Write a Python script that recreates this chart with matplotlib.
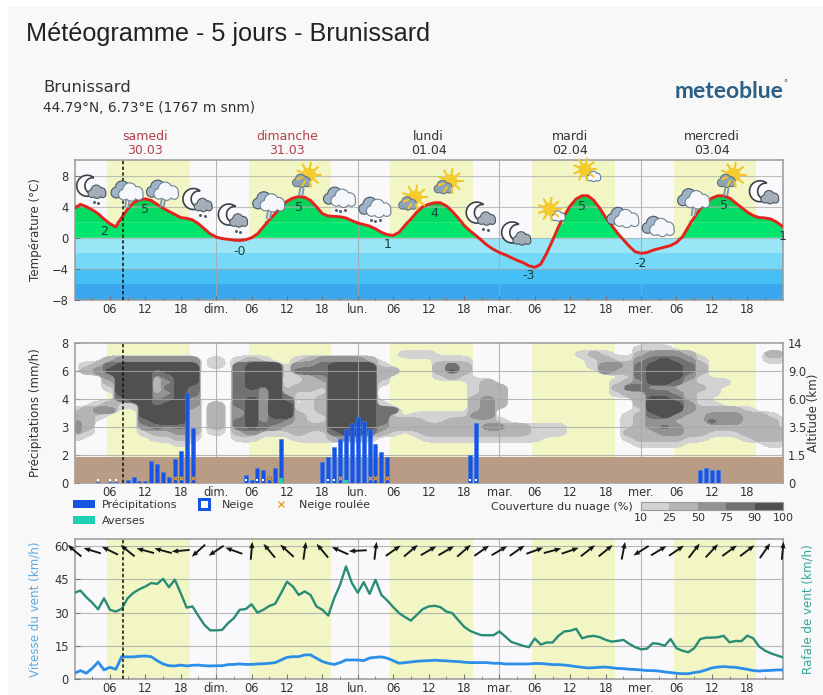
import numpy as np
import matplotlib
matplotlib.use("Agg")
import matplotlib.pyplot as plt
from matplotlib.cm import ScalarMappable
from matplotlib.colors import BoundaryNorm, ListedColormap
from matplotlib.lines import Line2D
from matplotlib.patches import Circle, Patch, Polygon, Rectangle

W, H = 823, 695

# temperature (degC), one value per hour, 0..120
temp = [3.8,4.3,4.0,3.6,3.1,2.4,1.8,1.4,2.6,3.7,4.5,4.9,5.0,4.8,4.3,3.8,3.4,3.0,2.6,2.5,2.3,1.8,1.15,0.5,
        0.1,-0.1,-0.2,-0.3,-0.35,-0.25,0.0,0.5,1.4,2.3,3.1,4.0,4.7,5.1,5.3,5.2,4.8,4.0,3.1,2.8,2.75,2.7,2.55,2.2,
        1.9,1.7,1.5,1.15,0.7,0.4,0.3,0.7,1.6,2.4,3.3,4.0,4.3,4.5,4.5,4.1,3.4,2.55,1.6,0.9,0.3,-0.35,-1.0,-1.5,
        -1.9,-2.2,-2.55,-2.9,-3.2,-3.6,-3.8,-3.4,-2.0,-0.35,1.4,2.85,4.1,5.0,5.4,5.4,4.8,3.8,2.6,1.6,0.6,-0.25,-1.1,-1.8,
        -2.0,-1.9,-1.6,-1.4,-1.2,-1.0,-0.6,0.1,1.4,2.6,3.7,4.5,5.1,5.4,5.4,5.1,4.5,3.9,3.3,2.85,2.6,2.55,2.4,2.0,1.45]
temp_label_hours = [5, 12, 28, 38, 53, 61, 77, 86, 96, 110, 120]
temp_label_y = [0.8, 3.6, -1.75, 3.9, -0.85, 3.06, -4.8, 4.0, -3.3, 4.1, 0.1]
temp_label_txt = ["2", "5", "-0", "5", "1", "4", "-3", "5", "-2", "5", "1"]

icon_hours = [3,9,15,21,27,33,39,45,51,57,63,69,75,81,87,93,99,105,111,117]
icon_y = [6.3,6.0,6.1,4.6,2.6,4.6,7.7,5.2,3.9,4.8,6.9,2.85,0.3,3.3,8.4,2.6,1.45,5.0,7.7,5.6]
icon_kind = ["moon_drops","clouds_rain","clouds_rain","moon_drops","moon_drops","clouds_rain","sun_rain",
             "clouds_dots","clouds_dots","sun_grey","sun_grey","moon_drops","moon","sun_white","sun_white",
             "clouds","clouds","clouds_rain","sun_rain","moon"]

day_start = [5.5, 29.5, 53.5, 77.5, 101.5]
day_end = [19.5, 43.5, 67.5, 91.5, 115.5]
now_hour = 8.3
day_names = ["samedi", "dimanche", "lundi", "mardi", "mercredi"]
day_dates = ["30.03", "31.03", "01.04", "02.04", "03.04"]
day_short = ["dim.", "lun.", "mar.", "mer."]

# precipitation (mm/h)
rain_hours = [4,6,7,9,10,11,12,13,14,15,16,17,18,19,20,29,30,31,32,33,34,35,
              42,43,44,45,46,47,48,49,50,51,52,53,67,68,106,107,108,109]
rain_vals = [0.1,0.1,0.1,0.2,0.4,0.15,0.15,1.6,1.35,0.8,0.4,1.75,2.15,4.46,2.95,0.55,0.2,1.1,0.95,0.5,1.1,2.56,
             1.5,1.87,2.29,2.56,2.94,3.13,3.34,3.22,2.94,2.41,2.12,1.87,1.98,3.15,0.96,1.08,0.96,0.93]
shower_hours = [35, 46]
shower_vals = [0.35, 0.2]
snow_hours = [4, 6, 7, 29, 31, 32, 43, 44, 67, 68]
graupel_hours = [17, 18, 20, 33, 45, 50, 51, 53]
precip_ticks = [0, 2, 3, 4, 6, 8]
alt_ticks = ["0", "1.5", "3.5", "6.0", "9.0", "14"]

# cloud cover class, columns every 2 h, rows from panel level 5.0 down to 1.0
cloud_rows = [
    "0000000000 0000000000 0000000000 0000000000 0000000000 0000000000 0",
    "0000000000 0000000000 0000000000 0000000000 0000000011 1000000000 0",
    "0000000000 0000000000 0000000011 1000000000 0001210023 3320000002 2",
    "0002333333 3010121001 2333320000 0111000000 0000121134 5431000001 1",
    "0124555555 5010455503 3455551000 0242000000 0000133245 5542000000 0",
    "0235555455 5000455514 4455552200 0252000000 0000032245 5542000000 0",
    "0003555245 5000455511 2355552000 0121000000 0000000145 5531000000 0",
    "0002555235 5000455501 2255551000 0000120000 0000001235 5421110000 0",
    "0001555245 4000453512 2155550000 0000122000 0000002443 3212100000 0",
    "0000555235 4000443521 1155550000 0000122000 0000001224 4321100000 0",
    "0000455345 3000453540 1255550000 0000232000 0000000025 5421000000 0",
    "0012115455 3020453550 1255551000 0000232000 0000000025 5531100000 0",
    "1233005555 2020353551 1255554400 0000230000 0000000015 5532222100 0",
    "2210005555 2020353552 1155554101 1111330000 0000000124 5322333221 0",
    "3200004555 2020453432 1155554222 1022221000 0000000123 3222433222 1",
    "3200003434 2020454322 2255553222 2222233221 1100000123 4322222222 1",
    "3100001223 2010231112 1145542101 2222222221 1100000222 3322111222 2",
    "1000000112 1000110001 1123210000 1111111111 0000000122 2211000122 2",
    "0000000001 0000000000 0000000000 0000000000 0000000011 1100000001 1",
    "0000000000 0000000000 0000000000 0000000000 0000000000 0000000000 0",
    "0000000000 0000000000 0000000000 0000000000 0000000000 0000000000 0",
]
cloud_levels = [10, 25, 50, 75, 90, 100]
cloud_colors = ["#d2d2d2", "#b4b4b4", "#929292", "#717171", "#505050"]
cloud_edge = [0.33, 0.37, 0.41, 0.45, 0.49]

# wind (km/h), one value per hour
wind = [2.6,3.8,2.6,4.8,7.7,4.1,5.3,4.4,10.1,10,10,10.3,10.4,10.1,8.3,6.8,6,5.9,6.3,5.9,6.2,6.3,6,5.9,
        6,6,6.5,6.6,6.8,6.6,6.6,6.8,6.9,7.1,7.4,8.6,9.8,10.1,10.1,10.9,10.9,9.4,7.9,7.1,6.6,7.4,8.6,8.6,
        8.6,8.3,9.5,9.8,10,9.4,8.3,7.1,7.4,7.7,8,8.2,8.3,8.5,8.3,8.2,8,7.9,7.6,7.4,7.4,7.4,7.4,7.1,
        7.1,6.8,6.8,6.8,6.8,6.8,7,7,6.8,6.5,6.5,6.3,6,5.6,5.3,5,5.1,5.3,5.4,5.1,4.8,4.7,4.4,4.3,
        4.1,3.8,3.8,3.6,3.2,2.9,2.6,2.4,2.4,2.9,3.3,4.1,5,5.4,5.6,5.4,5.3,4.8,4.4,3.8,3.6,3.8,3.9,4.1,4.1]
gust = [39,40,37,34.5,31.5,36.5,31.3,30.5,31.7,36.5,39,40.6,41.8,43.4,43,45.3,41.5,44.9,38.8,32.3,32.8,28.5,24.5,22,
        22,22.2,25.2,27.5,31.3,31.6,33.8,30,31.3,33,34,38.8,44,41.8,38,39.6,38,32.8,31.3,28.7,36.5,42.6,50.9,43.4,
        39,43.8,38.5,44.9,38,35.5,32.5,29.8,28,26.4,29,31.6,32.8,33.1,32.5,30.5,29.8,26.7,23.7,21.8,20.7,19.8,19.8,19.8,
        21.5,19.2,16.8,15.9,15,14.4,18.3,15.6,16.5,16.5,19.5,21.5,21.8,22.7,18.4,19.2,19.5,18.9,17.7,16.9,17.2,17.7,15.9,14.4,
        13.4,13.7,16.2,15.9,15,18.1,13.9,12.8,12.1,13.9,18,18.7,18.7,18.9,19.5,16.6,17.2,17.1,19.6,18.4,14.7,12.8,11.6,10.7,9.8]
# wind arrows, every 3 h, direction the arrow points to (deg from east)
arrow_angle = [140,163,154,141,165,165,185,222,214,160,85,130,138,82,130,156,183,83,35,40,30,
               30,41,35,30,35,20,15,19,38,39,79,212,31,34,52,47,36,37,55,84]

hours = np.arange(len(temp))


def px_axes(left, top, right, bottom):
    return fig.add_axes([left / W, 1 - bottom / H, (right - left) / W, (bottom - top) / H])


def fig_text(x, y, s, **kw):
    fig.text(x / W, 1 - y / H, s, **kw)


def setup_panel(ax):
    ax.set_facecolor("#f9f9fb")
    ax.set_xlim(0, 120)
    for a, b in zip(day_start, day_end):
        ax.axvspan(a, b, color="#f1f6c4", lw=0, zorder=0)
    ax.set_xticks(np.arange(6, 120, 6))
    labels = []
    for h in range(6, 120, 6):
        if h % 24 == 0:
            labels.append(day_short[h // 24 - 1])
        else:
            labels.append("%02d" % (h % 24))
    ax.set_xticklabels(labels)
    ax.set_xticks(np.arange(3, 120, 6), minor=True)
    ax.tick_params(axis="both", which="major", direction="in", length=3.5, color="#777777",
                   labelsize=8.3, labelcolor="#333333", pad=4)
    ax.tick_params(axis="x", which="major", pad=2)
    ax.tick_params(axis="x", which="minor", direction="in", length=2, color="#777777")
    for h in [24, 48, 72, 96]:
        ax.axvline(h, color="#a5a5a5", lw=0.8, alpha=0.8, zorder=2.5)
    for sp in ax.spines.values():
        sp.set_color("#999999")
        sp.set_linewidth(1.1)
    ax.axvline(now_hour, color="#111111", lw=1.1, ls=(0, (2.2, 1.5)), zorder=6)


def upsample(a, n, passes=4):
    # bilinear on a grid n times finer, then a blur so the outlines are not stepped
    rows, cols = a.shape
    xi = np.linspace(0, cols - 1, (cols - 1) * n + 1)
    yi = np.linspace(0, rows - 1, (rows - 1) * n + 1)
    b = np.array([np.interp(xi, np.arange(cols), r) for r in a])
    b = np.array([np.interp(yi, np.arange(rows), c) for c in b.T]).T
    k = np.array([1, 2, 1]) / 4
    for _ in range(passes):
        b = np.apply_along_axis(lambda v: np.convolve(v, k, mode="same"), 1, b)
        b = np.apply_along_axis(lambda v: np.convolve(v, k, mode="same"), 0, b)
    return b, xi, yi


def cloud(cx, cy, s, fill, edge="#4a5560"):
    lobes = [(-0.52, 0.18, 0.34), (-0.1, -0.16, 0.46), (0.42, 0.02, 0.38), (0.55, 0.26, 0.27), (0.0, 0.25, 0.36)]
    for lw_extra, color in [(1.1, edge), (0, fill)]:
        for dx, dy, r in lobes:
            over.add_patch(Circle((cx + dx * s, cy + dy * s), r * s + lw_extra, fc=color, ec="none"))


def sun(cx, cy, r):
    for a in np.arange(0, 360, 40):
        c, n = np.cos(np.radians(a)), np.sin(np.radians(a))
        over.plot([cx + c * r, cx + c * r * 1.75], [cy + n * r, cy + n * r * 1.75], color="#f3c62a", lw=1.5,
                  solid_capstyle="round")
    over.add_patch(Circle((cx, cy), r, fc="#f5cb2e", ec="none"))


def moon(cx, cy, r):
    t = np.radians(np.linspace(50, 310, 40))
    outer = np.c_[cx + r * np.cos(t), cy - r * np.sin(t)]
    shift = 0.55 * r
    a = np.arctan2(np.sin(np.radians(50)), np.cos(np.radians(50)) - 0.55)
    rad = r * np.hypot(np.sin(np.radians(50)), np.cos(np.radians(50)) - 0.55)
    t2 = np.linspace(2 * np.pi - a, a, 40)
    inner = np.c_[cx + shift + rad * np.cos(t2), cy - rad * np.sin(t2)]
    over.add_patch(Polygon(np.r_[outer, inner], closed=True, fc="#fbfbfb", ec="#3b4148", lw=1.2))


def drops(cx, cy, n=2):
    for i in range(n):
        over.plot(cx + (i - (n - 1) / 2) * 4.5, cy + (i % 2), "o", ms=2.2, color="#55616d", mew=0)


def rain(cx, cy):
    for dx in [-2.5, 0.8]:
        over.plot([cx + dx, cx + dx - 1], [cy, cy + 6], color="#7f98ad", lw=1.4)


def three_clouds(cx, cy):
    cloud(cx - 4, cy - 1, 14, "#9fb4c8")
    cloud(cx + 3.5, cy + 1, 14, "#f5f7fb", edge="#6f808f")


def draw_icon(kind, cx, cy):
    if kind.startswith("moon"):
        moon(cx - 5, cy - 3, 10.5)
        cloud(cx + 5, cy + 3, 10, "#a4adb8")
        if kind == "moon_drops":
            drops(cx + 4, cy + 13)
    elif kind.startswith("clouds"):
        three_clouds(cx, cy)
        if kind == "clouds_rain":
            rain(cx + 1, cy + 10)
        elif kind == "clouds_dots":
            drops(cx, cy + 13, 3)
    elif kind == "sun_white":
        sun(cx - 3, cy - 3, 6.5)
        cloud(cx + 6, cy + 4, 7.5, "#f5f7fb", edge="#5d7ea0")
    else:
        sun(cx + 4, cy - 3, 7)
        cloud(cx - 3, cy + 3, 10, "#8fa3b6", edge="#66737f")
        if kind == "sun_rain":
            rain(cx - 2, cy + 11)


fig = plt.figure(figsize=(W / 100, H / 100), dpi=100, facecolor="white")
fig.add_artist(Rectangle((8 / W, 0), 1, 1 - 7 / H, transform=fig.transFigure, fc="#f8f8f8", ec="none", zorder=-5))

ax1 = px_axes(74.5, 160, 782.7, 300)
ax2 = px_axes(74.5, 343, 782.7, 483)
ax3 = px_axes(74.5, 539, 782.7, 679)

# ---------- temperature
setup_panel(ax1)
ax1.set_ylim(-8, 10)
ax1.set_yticks([-8, -4, 0, 4, 8])
ax1.yaxis.grid(True, color="#a8a8a8", lw=0.8, alpha=0.7, zorder=2)
ax1.set_axisbelow(False)
t = np.array(temp)
cold = ["#9be6f6", "#75d8f6", "#46bff7", "#39a8ef"]
for i, c in enumerate(cold):
    ax1.axhspan(-2 * i - 2, -2 * i, color=c, lw=0, zorder=1)
warm = ["#00e56e", "#04dc64", "#0ccf58"]
for i, c in enumerate(warm):
    lo, hi = 2 * i, 2 * i + 2
    ax1.fill_between(hours, lo, np.clip(t, lo, hi), where=t >= lo, interpolate=True, color=c, lw=0, zorder=1)
ax1.plot(hours, temp, color="#e4231f", lw=2.1, zorder=4, solid_capstyle="round")
for h, y, s in zip(temp_label_hours, temp_label_y, temp_label_txt):
    ax1.text(h, y, s, ha="center", va="center", fontsize=9, color="#12433f", zorder=5)
ax1.set_ylabel("Température (°C)", fontsize=8.6, color="#333333", labelpad=2)
ax1.yaxis.set_label_coords((42 - 74.5) / (782.7 - 74.5), 0.5)

# ---------- precipitation and clouds
setup_panel(ax2)
ax2.set_ylim(0, 5)
ax2.set_yticks(range(6))
ax2.set_yticklabels([str(v) for v in precip_ticks])
for lev in range(1, 5):
    ax2.axhline(lev, color="#a8a8a8", lw=0.8, alpha=0.8, zorder=2.5)

grid = np.array([[int(c) for c in row.replace(" ", "")] for row in cloud_rows])
for k, (color, edge) in enumerate(zip(cloud_colors, cloud_edge), start=1):
    mask, xi, yi = upsample((grid >= k).astype(float), 4)
    ax2.contourf(xi * 2, 5 - yi * 0.2, mask, levels=[edge, 2], colors=[color], zorder=1)

ax2.axhspan(0, 0.92, color="#b99c85", lw=0, zorder=3)
rain_pos = np.interp(rain_vals, precip_ticks, range(6))
ax2.bar(rain_hours, rain_pos, width=0.68, color="#1654e4", edgecolor="#3d78ee", lw=0.4, zorder=4)
ax2.bar(shower_hours, np.interp(shower_vals, precip_ticks, range(6)), width=0.68, color="#1fd0b5", zorder=5)
ax2.plot(snow_hours, [0.09] * len(snow_hours), "s", ms=2.1, color="white", mew=0, zorder=5)
ax2.plot(graupel_hours, [0.17] * len(graupel_hours), "x", ms=2.6, color="#e8a33a", mew=0.8, zorder=5)
ax2.set_ylabel("Précipitations (mm/h)", fontsize=8.6, color="#333333")
ax2.yaxis.set_label_coords((42 - 74.5) / (782.7 - 74.5), 0.5)
ax2r = ax2.twinx()
ax2r.set_ylim(0, 5)
ax2r.set_yticks(range(6))
ax2r.set_yticklabels(alt_ticks)
ax2r.tick_params(axis="y", length=0, labelsize=8.3, labelcolor="#333333", pad=4)
for sp in ax2r.spines.values():
    sp.set_visible(False)
fig_text(813, 413, "Altitude (km)", rotation=90, ha="center", va="center", fontsize=8.6, color="#333333")

handles = [
    Patch(fc="#1654e4", ec="none"),
    Patch(fc="#1fd0b5", ec="none"),
    Line2D([], [], ls="none", marker="s", ms=6.5, mfc="white", mec="#1654e4", mew=2.2),
    Line2D([], [], ls="none", marker="x", ms=4.5, color="#e8a33a", mew=1),
]
fig.legend(handles, ["Précipitations", "Averses", "Neige", "Neige roulée"], ncol=3, frameon=False,
           loc="upper left", bbox_to_anchor=(73 / W, 1 - 499 / H), borderaxespad=0, borderpad=0,
           fontsize=8, labelcolor="#333333", handlelength=2, handletextpad=0.6, columnspacing=1.4,
           labelspacing=0.6)

cax = px_axes(641, 502, 783, 510)
cmap = ListedColormap(cloud_colors)
norm = BoundaryNorm(cloud_levels, cmap.N)
cb = fig.colorbar(ScalarMappable(norm=norm, cmap=cmap), cax=cax, orientation="horizontal", spacing="uniform",
                  ticks=cloud_levels)
cb.outline.set_edgecolor("#999999")
cb.ax.tick_params(length=0, labelsize=8, labelcolor="#333333", pad=2.5)
cb.ax.minorticks_off()
fig_text(633, 507, "Couverture du nuage (%)", ha="right", va="center", fontsize=8, color="#333333")

# ---------- wind
setup_panel(ax3)
ax3.set_ylim(0, 63.3)
ax3.set_yticks([0, 15, 30, 45, 60])
ax3.yaxis.grid(True, color="#a8a8a8", lw=0.8, alpha=0.8, zorder=2)
ax3.set_axisbelow(False)
ax3.plot(hours, gust, color="#2a8c75", lw=1.7, zorder=4)
ax3.plot(hours, wind, color="#2b8ee8", lw=2.0, zorder=4)
arrow_hours = np.arange(0, 121, 3)
ang = np.radians(arrow_angle)
ax3.quiver(arrow_hours, [58] * len(arrow_hours), np.cos(ang), np.sin(ang), pivot="mid", angles="uv",
           units="dots", scale_units="dots", scale=1 / 18, width=1.9, headwidth=2.8, headlength=3.6,
           headaxislength=3.2, color="#151515", zorder=5, clip_on=False)
ax3.set_ylabel("Vitesse du vent (km/h)", fontsize=8.6, color="#5aabe0")
ax3.yaxis.set_label_coords((41 - 74.5) / (782.7 - 74.5), 0.5)
fig_text(808, 609, "Rafale de vent (km/h)", rotation=90, ha="center", va="center", fontsize=8.6, color="#35a89a")

# ---------- header texts
fig_text(26, 34, "Météogramme - 5 jours - Brunissard", fontsize=18.15, family="Liberation Sans", color="#222222",
         va="center")
fig_text(43, 87, "Brunissard", fontsize=11.8, color="#333333", va="center")
fig_text(43, 108, "44.79°N, 6.73°E (1767 m snm)", fontsize=9.9, color="#333333", va="center")
fig_text(783, 91, "meteoblue", fontsize=16.5, family="Lato", weight="bold", color="#2c5f85", ha="right", va="center")
fig_text(785, 84, "°", fontsize=6, color="#2c5f85", ha="center", va="center")
for i, (name, date) in enumerate(zip(day_names, day_dates)):
    col = "#b5404f" if i < 2 else "#333333"
    x = ax1.transData.transform((12 + 24 * i, 0))[0]
    fig_text(x, 136, name, fontsize=9, color=col, ha="center", va="center")
    fig_text(x, 150, date, fontsize=9, color=col, ha="center", va="center")

# ---------- weather icons, placed from the temperature axes scale
over = fig.add_axes([0, 0, 1, 1], facecolor="none")
over.set_xlim(0, W)
over.set_ylim(H, 0)
over.axis("off")
for h, y, kind in zip(icon_hours, icon_y, icon_kind):
    dx, dy = ax1.transData.transform((h, y))
    draw_icon(kind, dx, H - dy)

fig.savefig("out.png", dpi=100)
